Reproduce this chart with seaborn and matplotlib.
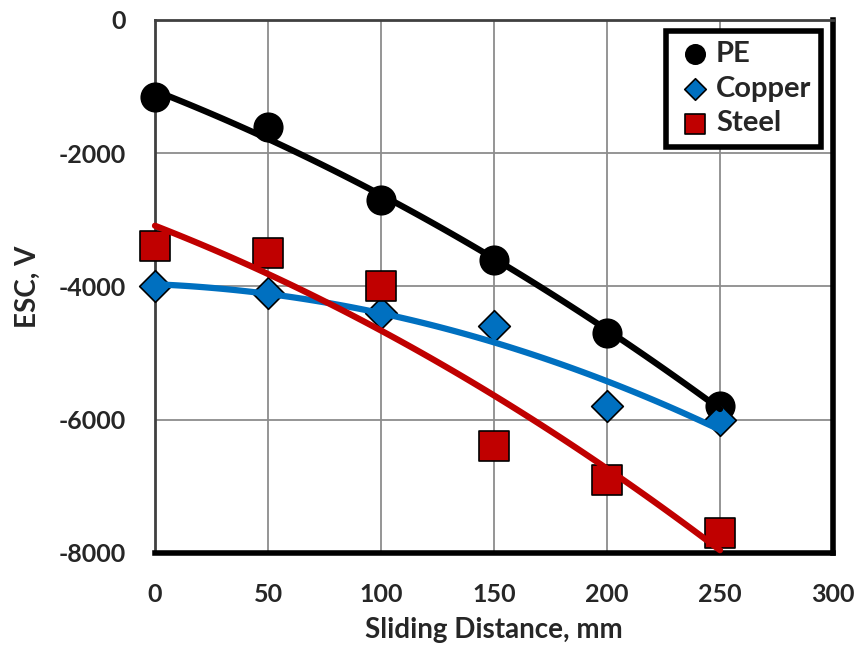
import numpy as np
import pandas as pd
import matplotlib.pyplot as plt
import seaborn as sns

# Data
distance = [0, 50, 100, 150, 200, 250]
pe = [-1150, -1600, -2700, -3600, -4700, -5800]
copper = [-4000, -4100, -4400, -4600, -5800, -6000]
steel = [-3400, -3500, -4000, -6400, -6900, -7700]

series = ["PE", "Copper", "Steel"]
colors = {"PE": "#000000", "Copper": "#0070C0", "Steel": "#C00000"}
markers = {"PE": "o", "Copper": "D", "Steel": "s"}
sizes = {"PE": 420, "Copper": 260, "Steel": 480}

df = pd.DataFrame({
    "Distance": distance * 3,
    "ESC": pe + copper + steel,
    "Material": ["PE"] * 6 + ["Copper"] * 6 + ["Steel"] * 6,
})

sns.set_style("white")
plt.rcParams["font.family"] = ["Lato", "DejaVu Sans"]
plt.rcParams["font.weight"] = "bold"
plt.rcParams["axes.unicode_minus"] = False

fig = plt.figure(figsize=(8.61, 6.55), dpi=100)
ax = fig.add_axes([0.180, 0.156, 0.7875, 0.8135])

# ---- Markers ----
for name in series:
    sub = df[df["Material"] == name]
    sns.scatterplot(data=sub, x="Distance", y="ESC", ax=ax, marker=markers[name],
                    s=sizes[name], color=colors[name], edgecolor="black",
                    linewidth=1.2, label=name, zorder=3, clip_on=False)

# ---- Polynomial trendlines (order 2) ----
for name in series:
    sub = df[df["Material"] == name]
    sns.regplot(data=sub, x="Distance", y="ESC", ax=ax, order=2, ci=None,
                scatter=False, color=colors[name],
                line_kws={"lw": 4.5, "zorder": 4, "clip_on": False})

ax.set_xlim(0, 300)
ax.set_ylim(-8000, 0)
ax.set_xticks(range(0, 301, 50))
ax.set_yticks(range(-8000, 1, 2000))
ax.grid(True, color="#8c8c8c", lw=1.3)
ax.set_axisbelow(True)

for side in ["left", "top"]:
    ax.spines[side].set_color("#404040")
    ax.spines[side].set_linewidth(2)
for side in ["right", "bottom"]:
    ax.spines[side].set_color("black")
    ax.spines[side].set_linewidth(4)

ax.tick_params(axis="x", labelsize=18, length=0, pad=22)
ax.tick_params(axis="y", labelsize=18, length=0, pad=21)
for lbl in ax.get_xticklabels() + ax.get_yticklabels():
    lbl.set_fontweight("bold")
ax.set_xlabel("Sliding Distance, mm", fontsize=20, fontweight="bold", labelpad=8)
ax.set_ylabel("ESC, V", fontsize=20, fontweight="bold", labelpad=13)

leg = ax.legend(loc="upper right", bbox_to_anchor=(0.983, 0.98), fontsize=21,
                frameon=True, fancybox=False, framealpha=1, handletextpad=0.05,
                borderpad=0.35, borderaxespad=0, labelspacing=0.3,
                handlelength=1.3, markerscale=0.68)
leg.get_frame().set_edgecolor("black")
leg.get_frame().set_linewidth(4)
for t in leg.get_texts():
    t.set_fontweight("bold")

fig.savefig("out.png", dpi=100)
